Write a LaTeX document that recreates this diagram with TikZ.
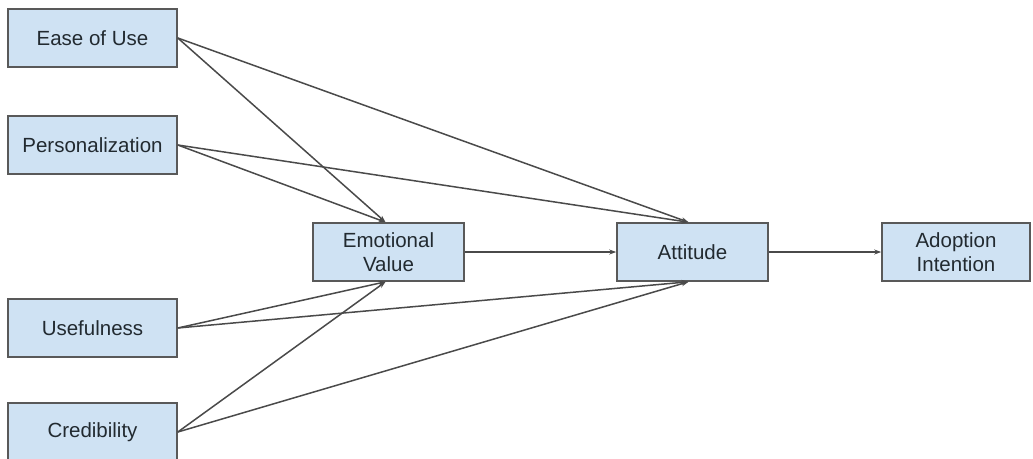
\documentclass[tikz,border=0pt]{standalone}
\usepackage{fontspec}
\setmainfont{Liberation Sans}
\usetikzlibrary{arrows.meta}
\definecolor{boxfill}{HTML}{CFE2F3}
\definecolor{boxline}{HTML}{595959}
\definecolor{lnk}{HTML}{4A4A4A}
\definecolor{txt}{HTML}{222A30}
\begin{document}
\begin{tikzpicture}[x=1pt,y=-1pt,
  box/.style={draw=boxline,line width=1.6pt,fill=boxfill,minimum width=169pt,minimum height=58pt,inner sep=0pt,align=center,text=txt,font=\fontsize{20.5}{23.5}\selectfont},
  midbox/.style={box,minimum width=151pt},
  link/.style={draw=lnk,line width=1.5pt,-{Stealth[length=7pt,width=5pt]}}]
\useasboundingbox (0,0) rectangle (1033,458);
\node[box] (ease) at (92.5,38) {Ease of Use};
\node[box] (pers) at (92.5,145) {Personalization};
\node[box] (use) at (92.5,328) {Usefulness};
\node[box] (cred) at (92.5,432) {Credibility};
\node[midbox] (ev) at (388.5,252) {Emotional\\Value};
\node[midbox] (att) at (692.5,252) {Attitude};
\node[midbox,minimum width=148pt] (ai) at (956,252) {Adoption\\Intention};
\coordinate (evt) at ([xshift=-3pt]ev.north);
\coordinate (evb) at ([xshift=-3pt]ev.south);
\coordinate (attt) at ([xshift=-4pt]att.north);
\coordinate (attb) at ([xshift=-4pt]att.south);
\draw[link] (ease.east) -- (evt);
\draw[link] (ease.east) -- (attt);
\draw[link] (pers.east) -- (evt);
\draw[link] (pers.east) -- (attt);
\draw[link] (use.east) -- (evb);
\draw[link] (use.east) -- (attb);
\draw[link] (cred.east) -- (evb);
\draw[link] (cred.east) -- (attb);
\draw[link] (ev.east) -- (att.west);
\draw[link] (att.east) -- (ai.west);
\end{tikzpicture}
\end{document}
